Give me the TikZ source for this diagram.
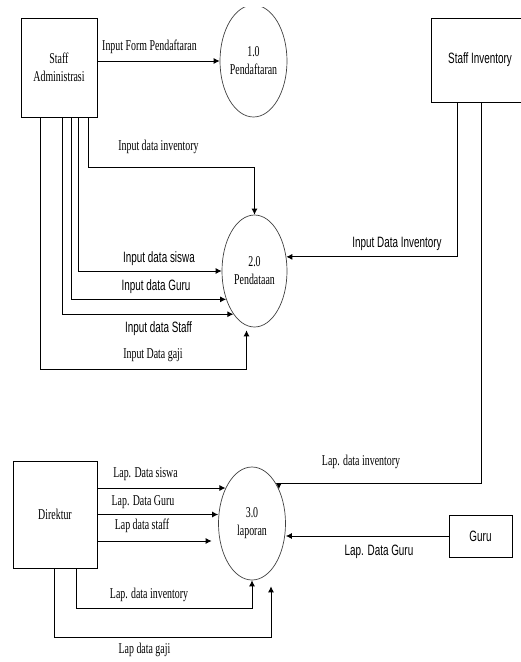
\documentclass[tikz,border=0pt]{standalone}
\usepackage{fontspec}
\setmainfont[FakeStretch=0.66]{Liberation Serif}
\newfontfamily\narrowsans[FakeStretch=0.66]{Liberation Sans}
\usetikzlibrary{arrows.meta,shapes.geometric}
\def\fs{\fontsize{15}{18}\selectfont}
\tikzset{
  ent/.style={draw,line width=0.9pt,inner sep=0pt,align=center},
  proc/.style={ellipse,draw=black!75,line width=0.7pt,minimum width=65pt,minimum height=112pt,inner sep=0pt,align=center},
  flow/.style={->,line width=0.9pt},
  lbl/.style={inner sep=0pt},
  slbl/.style={inner sep=0pt,font=\fs\narrowsans}
}
\begin{document}
\begin{tikzpicture}[>={Latex[length=6pt,width=6pt]},x=1pt,y=-1pt,font=\fs]
\useasboundingbox (0,0) rectangle (520,662);
\node[ent,minimum width=76pt,minimum height=99pt] (sa) at (59,67.5) {Staff\\Administrasi};
\node[ent,minimum width=98pt,minimum height=84pt,font=\fs\narrowsans] (si) at (480,60) {Staff Inventory};
\node[ent,minimum width=84pt,minimum height=107pt] (dir) at (55,514.5) {Direktur};
\node[ent,minimum width=63pt,minimum height=42pt,font=\fs\narrowsans] (guru) at (480.5,536) {Guru};
\begin{scope}
\clip (0,7) rectangle (520,662);
\node[proc,minimum width=67pt] (p1) at (253.5,61) {1.0\\Pendaftaran};
\end{scope}
\node[proc] (p2) at (254.5,271) {2.0\\Pendataan};
\node[proc,minimum width=67pt,minimum height=113pt] (p3) at (252,523.5) {3.0\\laporan};
\draw[flow] (p1.west -| sa.east) -- (p1.west);
\draw[flow] ([xshift=29pt]sa.south) -- ++(0,50) -| (p2.north);
\draw[flow] ([xshift=19pt]sa.south) |- (p2.west);
\draw[flow] ([xshift=12pt]sa.south) |- (p2.225);
\draw[flow] ([xshift=3pt]sa.south) |- (p2.244);
\draw[flow] ([xshift=-19pt]sa.south) -- ++(0,252) -| ([xshift=-8pt,yshift=-3pt]p2.south);
\draw[flow] ([xshift=-23pt]si.south) |- (p2.24);
\draw[flow] ([xshift=1pt]si.south) |- ([yshift=6pt]p3.52) -- (p3.52);
\coordinate (d1) at ([yshift=26.5pt]dir.east);
\coordinate (d2) at (dir.east);
\coordinate (d3) at ([yshift=-26.5pt]dir.east);
\path (d3 -| p3.west) coordinate (d3x);
\draw[flow] (d1) -- (d1 -| p3.127);
\draw[flow] (d2) -- (d2 -| p3.west);
\draw[flow] (d3) -- ([xshift=-6.5pt]d3x);
\draw[flow] ([xshift=21pt]dir.south) -- ++(0,40) -| (p3.south);
\draw[flow] ([xshift=-1pt]dir.south) -- ++(0,69) -| ([xshift=19pt,yshift=-6pt]p3.south);
\draw[flow] (guru.west) -- (guru.west -| p3.east);
\node[lbl] (l1) at (149.5,46.5) {Input Form Pendaftaran};
\node[lbl] (l2) at (158.5,147) {Input data inventory};
\node[slbl] (l3) at (159,258.5) {Input data siswa};
\node[slbl] (l4) at (156,287) {Input data Guru};
\node[slbl] (l5) at (158.5,329) {Input data Staff};
\node[lbl] (l6) at (153,355) {Input Data gaji};
\node[slbl] (l7) at (397,244) {Input Data Inventory};
\node[lbl] (l8) at (361,461.5) {Lap. data inventory};
\node[lbl] (l9) at (145.5,474) {Lap. Data siswa};
\node[lbl] (l10) at (143,502.5) {Lap. Data Guru};
\node[lbl] (l11) at (142,526) {Lap data staff};
\node[slbl] (l12) at (379,551.5) {Lap. Data Guru};
\node[lbl] (l13) at (149,595) {Lap. data inventory};
\node[lbl] (l14) at (144.5,650) {Lap data gaji};
\end{tikzpicture}
\end{document}
